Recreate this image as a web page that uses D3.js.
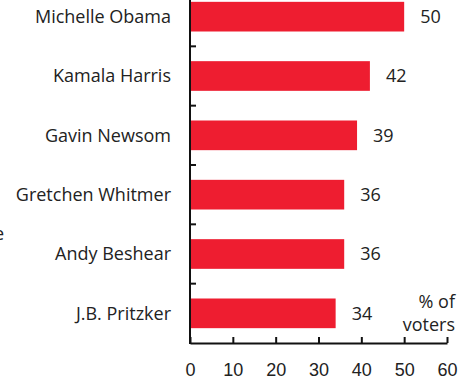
<!DOCTYPE html>
<html>
<head>
<meta charset="utf-8">
<script src="https://cdn.jsdelivr.net/npm/d3@7"></script>
<style>
  body { margin: 0; background: #fff; }
  svg { display: block; font-family: "Open Sans", sans-serif; }
  .axis path, .axis line { stroke: #111; stroke-width: 2; }
  .axis text { fill: #222; font-size: 18px; }
</style>
</head>
<body>
<div id="chart"></div>
<script>
const names = ["Michelle Obama", "Kamala Harris", "Gavin Newsom", "Gretchen Whitmer", "Andy Beshear", "J.B. Pritzker"];
const values = [50, 42, 39, 36, 36, 34];
const xTicks = [0, 10, 20, 30, 40, 50, 60];

const width = 473, height = 381;
const margins = { top: -13, bottom: 38, left: 190, right: 26 };

const data = names.map((n, i) => ({ name: n, value: values[i] }));

const svg = d3.select("#chart").append("svg")
  .attr("width", width)
  .attr("height", height);

const xScale = d3.scaleLinear()
  .domain([0, 60])
  .range([margins.left, width - margins.right]);

const yScale = d3.scaleBand()
  .domain(names)
  .range([margins.top, height - margins.bottom])
  .paddingInner(0.5)
  .paddingOuter(0.25);

const bottom = height - margins.bottom;
const step = yScale.step();

// bars
svg.selectAll("rect.bar")
  .data(data)
  .join("rect")
  .attr("class", "bar")
  .attr("x", xScale(0))
  .attr("y", d => yScale(d.name))
  .attr("width", d => xScale(d.value) - xScale(0))
  .attr("height", yScale.bandwidth())
  .attr("fill", "#ee1d30");

// value labels
svg.selectAll("text.val")
  .data(data)
  .join("text")
  .attr("class", "val")
  .attr("x", d => xScale(d.value) + 16)
  .attr("y", d => yScale(d.name) + yScale.bandwidth() / 2)
  .attr("dy", "0.35em")
  .attr("font-size", 18)
  .attr("fill", "#222")
  .text(d => d.value);

// category labels
svg.selectAll("text.cat")
  .data(data)
  .join("text")
  .attr("class", "cat")
  .attr("x", margins.left - 19)
  .attr("y", d => yScale(d.name) + yScale.bandwidth() / 2)
  .attr("dy", "0.35em")
  .attr("text-anchor", "end")
  .attr("font-size", 18)
  .attr("fill", "#222")
  .text(d => d.name);

// x axis, ticks pointing up
svg.append("g")
  .attr("class", "axis")
  .attr("transform", `translate(0, ${bottom})`)
  .call(d3.axisBottom(xScale).tickValues(xTicks).tickSize(-6).tickSizeOuter(0).tickPadding(20))
  .call(g => g.selectAll(".tick text").attr("dy", "0.71em"));

// y axis line with ticks between categories
const yAxis = svg.append("g").attr("class", "axis");
yAxis.append("line")
  .attr("x1", xScale(0)).attr("x2", xScale(0))
  .attr("y1", margins.top).attr("y2", bottom + 1);
yAxis.selectAll("line.sep")
  .data(names.slice(1))
  .join("line")
  .attr("class", "sep")
  .attr("x1", xScale(0)).attr("x2", xScale(0) + 6)
  .attr("y1", d => yScale(d) - step * 0.25)
  .attr("y2", d => yScale(d) - step * 0.25);

// unit label
svg.append("text")
  .attr("x", width - 18)
  .attr("y", 308)
  .attr("text-anchor", "end")
  .attr("font-size", 18)
  .attr("fill", "#222")
  .selectAll("tspan")
  .data(["% of", "voters"])
  .join("tspan")
  .attr("x", width - 18)
  .attr("dy", (d, i) => i ? 23 : 0)
  .text(d => d);

// text clipped at the left edge in the original
svg.append("text")
  .attr("x", 4)
  .attr("y", 240)
  .attr("text-anchor", "end")
  .attr("font-size", 18)
  .attr("fill", "#222")
  .text("e");
</script>
</body>
</html>
